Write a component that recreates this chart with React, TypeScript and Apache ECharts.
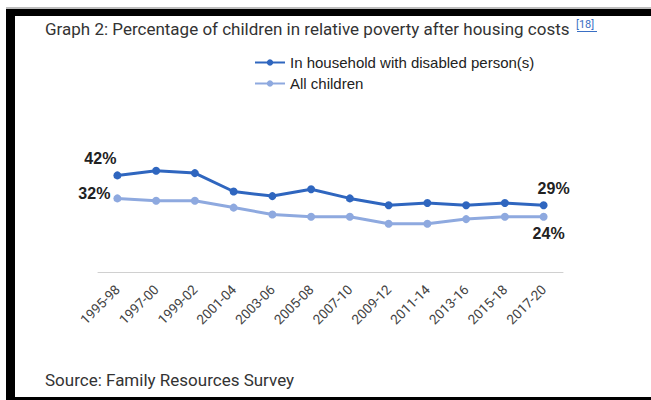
import React, { useEffect, useRef } from "react";
import * as echarts from "echarts";

const categories = [
  "1995-98", "1997-00", "1999-02", "2001-04", "2003-06", "2005-08",
  "2007-10", "2009-12", "2011-14", "2013-16", "2015-18", "2017-20",
];
const disabledValues = [42, 44, 43, 35, 33, 36, 32, 29, 30, 29, 30, 29];
const allChildrenValues = [32, 31, 31, 28, 25, 24, 24, 21, 21, 23, 24, 24];
const seriesNames = ["In household with disabled person(s)", "All children"];
const titleText = "Graph 2: Percentage of children in relative poverty after housing costs";
const refText = "[18]";
const sourceText = "Source: Family Resources Survey";

const DARK = "#2F66BF";
const LIGHT = "#8EA9DF";

const labelStyle = {
  show: true,
  fontFamily: "Liberation Sans",
  fontWeight: "bold" as const,
  fontSize: 16,
  color: "#222",
  formatter: (p: any) => p.value + "%",
};

function withEndLabels(values: number[], first: any, last: any) {
  return values.map((v, i) => {
    if (i === 0) return { value: v, label: { ...labelStyle, ...first } };
    if (i === values.length - 1) return { value: v, label: { ...labelStyle, ...last } };
    return { value: v };
  });
}

export default function App() {
  const ref = useRef<HTMLDivElement>(null);
  useEffect(() => {
    if (!ref.current) return;
    const chart = echarts.init(ref.current, null, { renderer: "svg" });
    chart.setOption({
      animation: false,
      backgroundColor: "#fff",
      grid: { left: 98, width: 465, top: 157, height: 115 },
      legend: {
        orient: "vertical",
        left: 254,
        top: 55,
        padding: 0,
        itemWidth: 30,
        itemHeight: 8,
        itemGap: 6,
        textStyle: { fontFamily: "Liberation Sans", fontSize: 15, color: "#222" },
        data: seriesNames,
      },
      xAxis: {
        type: "category",
        data: categories,
        boundaryGap: true,
        axisLine: { lineStyle: { color: "#d0d0d0", width: 1 } },
        axisTick: { show: false },
        axisLabel: {
          rotate: 45,
          interval: 0,
          margin: 15,
          fontFamily: "Roboto",
          fontSize: 13.5,
          color: "#444",
        },
      },
      yAxis: {
        type: "value",
        min: 0,
        max: 50,
        show: false,
        splitLine: { show: false },
      },
      series: [
        {
          name: seriesNames[0],
          type: "line",
          color: DARK,
          symbol: "circle",
          symbolSize: 8,
          lineStyle: { width: 3, color: DARK },
          itemStyle: { color: DARK },
          label: { show: false },
          data: withEndLabels(
            disabledValues,
            { position: "top", offset: [-17, 0] },
            { position: "top", offset: [10, 0] }
          ),
        },
        {
          name: seriesNames[1],
          type: "line",
          color: LIGHT,
          symbol: "circle",
          symbolSize: 8,
          lineStyle: { width: 3, color: LIGHT },
          itemStyle: { color: LIGHT },
          label: { show: false },
          data: withEndLabels(
            allChildrenValues,
            { position: "left", offset: [0, -5], distance: 3 },
            { position: "bottom", offset: [5, 0] }
          ),
        },
      ],
      graphic: [
        { type: "rect", shape: { x: 6, y: 7, width: 645, height: 2 }, style: { fill: "#bdbdbd" } },
        { type: "rect", shape: { x: 6, y: 9, width: 645, height: 7 }, style: { fill: "#000" } },
        { type: "rect", shape: { x: 6, y: 9, width: 9, height: 391 }, style: { fill: "#000" } },
        { type: "rect", shape: { x: 6, y: 397, width: 645, height: 3 }, style: { fill: "#000" } },
        {
          type: "text",
          left: 45,
          top: 20,
          style: {
            text: titleText,
            fontFamily: "Roboto",
            fontSize: 17,
            fill: "#333",
          },
        },
        {
          type: "text",
          left: 576,
          top: 19,
          style: {
            text: refText,
            fontFamily: "Roboto",
            fontSize: 11,
            fill: "#3a6fc4",
          },
        },
        { type: "rect", shape: { x: 577, y: 31, width: 20, height: 1 }, style: { fill: "#3a6fc4" } },
        {
          type: "text",
          left: 45,
          top: 371,
          style: {
            text: sourceText,
            fontFamily: "Roboto",
            fontSize: 17,
            fill: "#333",
          },
        },
      ],
    });
    return () => chart.dispose();
  }, []);
  return (
    <div
      ref={ref}
      style={{ position: "fixed", left: 0, top: 0, width: 651, height: 400 }}
    />
  );
}
